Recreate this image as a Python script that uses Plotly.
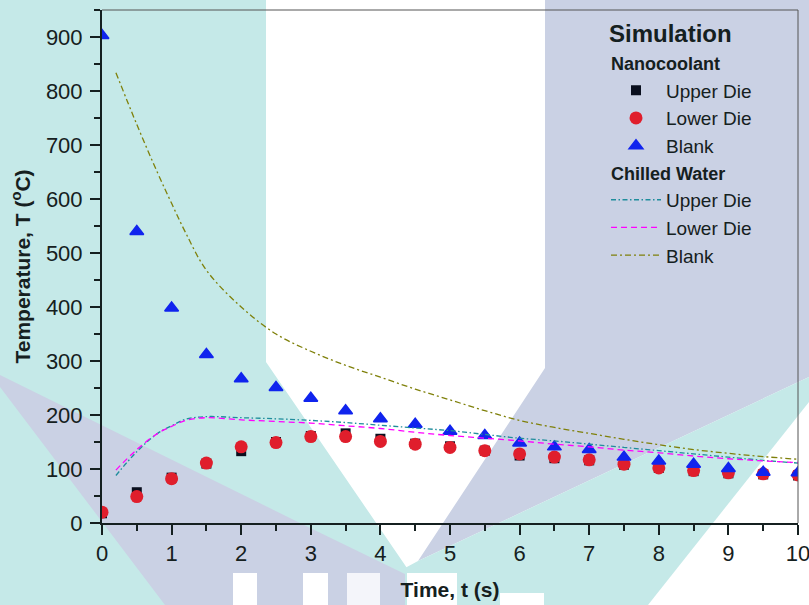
import plotly.graph_objects as go

# ---------------- data ----------------
t_nano = [0, 0.5, 1, 1.5, 2, 2.5, 3, 3.5, 4, 4.5, 5, 5.5, 6, 6.5, 7, 7.5, 8, 8.5, 9, 9.5, 10]
nano_upper = [18, 57, 84, 110, 133, 150, 161, 166, 156, 147, 142, 134, 125, 120, 116, 108, 102, 96, 92, 90, 88]
nano_lower = [20, 49, 82, 111, 141, 149, 160, 160, 151, 146, 140, 134, 128, 122, 117, 109, 102, 97, 93, 91, 89]
nano_blank = [903, 540, 398, 312, 267, 251, 231, 208, 193, 183, 170, 162, 148, 141, 136, 122, 115, 109, 101, 94, 93]

t_chill = [0.2, 0.5, 0.8, 1.0, 1.2, 1.5, 2, 2.5, 3, 3.5, 4, 4.5, 5, 5.5, 6, 6.5, 7, 7.5, 8, 8.5, 9, 9.5, 10]
chill_upper = [88, 132, 166, 180, 192, 197, 195, 193, 190, 186, 181, 176, 171, 164, 157, 152, 146, 140, 134, 128, 122, 116, 111]
chill_lower = [98, 136, 166, 179, 190, 195, 191, 188, 185, 180, 175, 168, 162, 157, 152, 146, 141, 135, 130, 124, 119, 115, 112]
chill_blank = [834, 738, 648, 592, 538, 468, 400, 350, 318, 292, 270, 248, 228, 208, 190, 177, 166, 155, 145, 136, 129, 123, 118]

x_ticks = list(range(0, 11))
y_ticks = list(range(0, 1000, 100))

FONT = "Liberation Sans"
TXT = "#152020"

fig = go.Figure()

fig.add_trace(go.Scatter(x=t_nano, y=nano_upper, mode="markers", name="Upper Die",
                         marker=dict(symbol="square", size=10, color="#0a0f1e"),
                         legendgroup="nano", legendgrouptitle=dict(text="<b>Nanocoolant</b>", font=dict(size=18))))
fig.add_trace(go.Scatter(x=t_nano, y=nano_lower, mode="markers", name="Lower Die",
                         marker=dict(symbol="circle", size=13, color="#e01e2c"),
                         legendgroup="nano"))
fig.add_trace(go.Scatter(x=t_nano, y=nano_blank, mode="markers", name="Blank",
                         marker=dict(symbol="triangle-up", size=12, color="#1024ee",
                                     line=dict(color="#1024ee", width=1.5)),
                         legendgroup="nano"))
fig.add_trace(go.Scatter(x=t_chill, y=chill_upper, mode="lines", name="Upper Die",
                         line=dict(color="#1f8d9c", width=1.3, dash="5px,2.5px,1.5px,2.5px", shape="spline"),
                         legendgroup="chill", legendgrouptitle=dict(text="<b>Chilled Water</b>", font=dict(size=18))))
fig.add_trace(go.Scatter(x=t_chill, y=chill_lower, mode="lines", name="Lower Die",
                         line=dict(color="#ff00ff", width=1.3, dash="6px,4px", shape="spline"),
                         legendgroup="chill"))
fig.add_trace(go.Scatter(x=t_chill, y=chill_blank, mode="lines", name="Blank",
                         line=dict(color="#7f800a", width=1.3, dash="6px,3px,2px,3px", shape="spline"),
                         legendgroup="chill"))

# ---------------- decorative watermark background ----------------
L, R, T, B = 102, 11, 10, 82
W, H = 809, 605
PW, PH = W - L - R, H - T - B


def px2paper(px, py):
    return (px - L) / PW, (H - B - py) / PH


def pix_path(pts):
    s = []
    for i, (px, py) in enumerate(pts):
        xp, yp = px2paper(px, py)
        s.append(("M" if i == 0 else "L") + f"{xp:.5f},{yp:.5f}")
    return " ".join(s) + " Z"


TEAL = "#c5e9e8"
LAV = "#cad1e4"
polys = [
    ([(0, 0), (266, 0), (266, 362), (407, 568), (407, 605), (0, 605)], TEAL),
    ([(0, 375), (300, 523), (407, 575), (407, 605), (165, 605), (0, 387)], LAV),
    ([(545, 0), (809, 0), (809, 377), (418, 561), (545, 368)], LAV),
    ([(809, 377), (809, 402), (648, 605), (405, 605), (405, 568), (418, 561)], TEAL),
    ([(233, 573), (257, 573), (257, 605), (233, 605)], "#ffffff"),
    ([(303, 573), (328, 573), (328, 605), (303, 605)], "#ffffff"),
    ([(347, 573), (380, 573), (380, 605), (347, 605)], "#f4f5fa"),
    ([(407, 573), (457, 573), (457, 605), (407, 605)], "#ffffff"),
    ([(500, 593), (544, 593), (544, 605), (500, 605)], "#ffffff"),
]
shapes = []
for pts, col in polys:
    shapes.append(dict(type="path", xref="paper", yref="paper", path=pix_path(pts),
                       fillcolor=col, line=dict(width=0), layer="below"))
# thin frame lines on top and right
shapes.append(dict(type="line", xref="paper", yref="paper", x0=0, x1=1, y0=1, y1=1,
                   line=dict(color="#555555", width=1), layer="above"))
shapes.append(dict(type="line", xref="paper", yref="paper", x0=1, x1=1, y0=0, y1=1,
                   line=dict(color="#555555", width=1), layer="above"))

sim_x, sim_y = px2paper(607, 33)
leg_x, leg_y = px2paper(606, 45)

fig.update_layout(
    width=W, height=H,
    margin=dict(l=L, r=R, t=T, b=B, autoexpand=False),
    paper_bgcolor="white",
    plot_bgcolor="rgba(0,0,0,0)",
    font=dict(family=FONT, color=TXT, size=18),
    shapes=shapes,
    annotations=[dict(text="<b>Simulation</b>", x=sim_x, y=sim_y, xref="paper", yref="paper",
                      xanchor="left", yanchor="middle", showarrow=False,
                      font=dict(size=24, family=FONT, color=TXT))],
    showlegend=True,
    legend=dict(x=leg_x, y=leg_y, xanchor="left", yanchor="top",
                bgcolor="rgba(0,0,0,0)", font=dict(size=19, family=FONT, color=TXT),
                tracegroupgap=0, traceorder="grouped", itemwidth=50),
    xaxis=dict(range=[0, 10], tickvals=x_ticks, ticks="outside", ticklen=10, tickwidth=1.5,
               tickcolor=TXT, showline=True, linecolor=TXT, linewidth=2, showgrid=False,
               zeroline=False, automargin=False, ticklabeloverflow="allow",
               tickfont=dict(size=22, family=FONT, color=TXT),
               minor=dict(dtick=0.5, ticks="outside", ticklen=6, tickwidth=1.5, tickcolor=TXT),
               title=dict(text="<b>Time, t (s)</b>", font=dict(size=21, family=FONT, color=TXT), standoff=17)),
    yaxis=dict(range=[0, 950], tickvals=y_ticks, ticks="outside", ticklen=10, tickwidth=1.5,
               tickcolor=TXT, showline=True, linecolor=TXT, linewidth=2, showgrid=False,
               zeroline=False, automargin=False, ticklabelstandoff=3,
               tickfont=dict(size=22, family=FONT, color=TXT),
               minor=dict(dtick=50, ticks="outside", ticklen=6, tickwidth=1.5, tickcolor=TXT),
               title=dict(text="<b>Temperature, T (<sup>o</sup>C)</b>", font=dict(size=21, family=FONT, color=TXT), standoff=10)),
)

fig.write_html("out.html", config={"displayModeBar": False},
               post_script="document.body.style.margin='0';document.body.style.overflow='hidden';")
